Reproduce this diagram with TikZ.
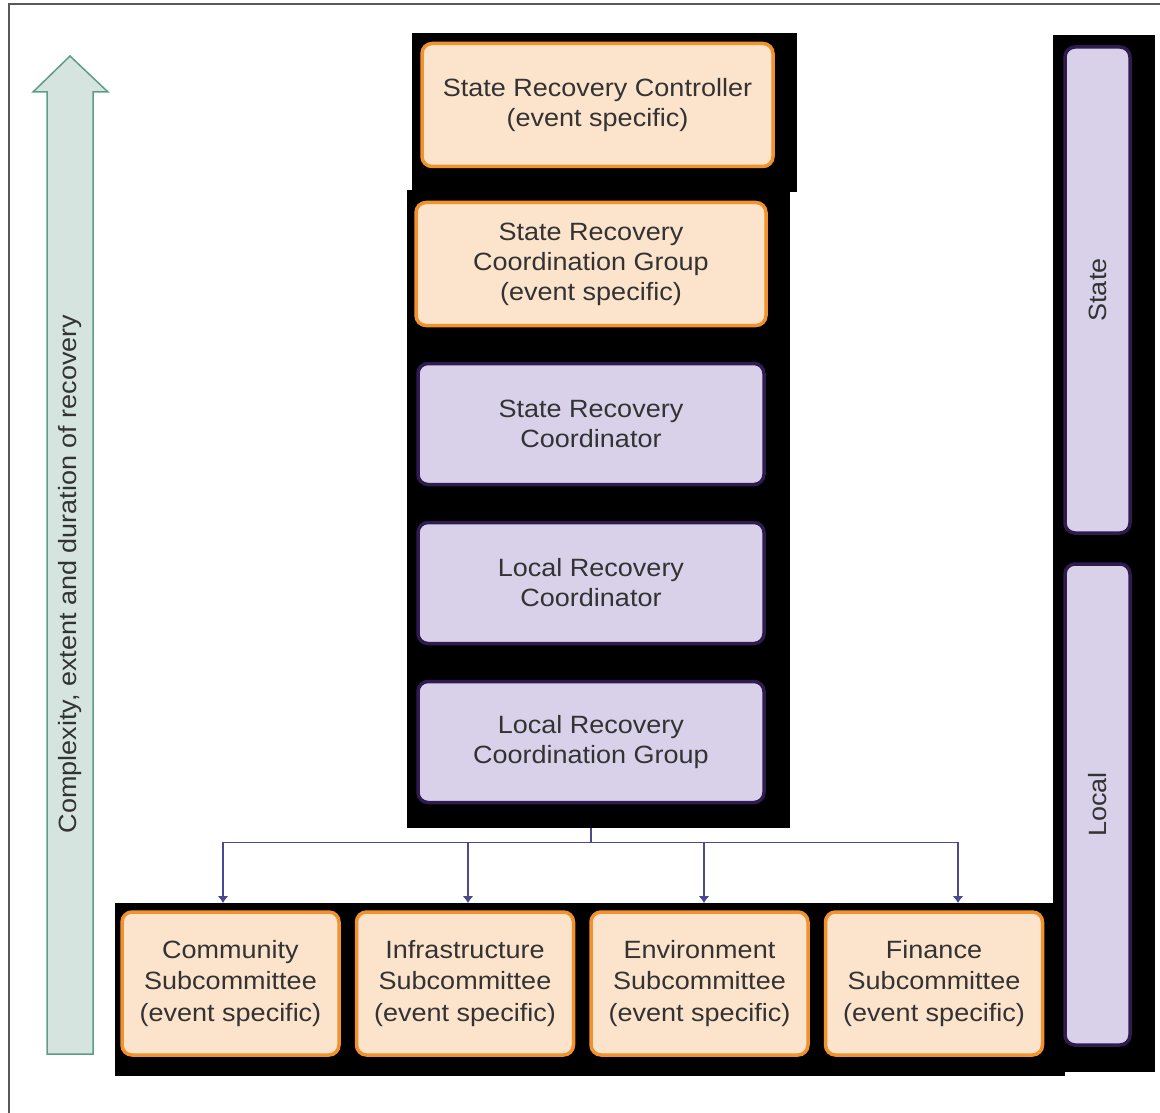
\documentclass[tikz,border=0pt]{standalone}
\usepackage{fontspec}
\setmainfont{Liberation Sans}[FakeStretch=1.08]
\usetikzlibrary{arrows.meta,calc}
\definecolor{peach}{HTML}{FCE3CB}
\definecolor{orangeline}{HTML}{F2922F}
\definecolor{lavender}{HTML}{D9D1EA}
\definecolor{purpleline}{HTML}{2F1B4F}
\definecolor{arrowfill}{HTML}{D5E4DE}
\definecolor{arrowline}{HTML}{5C9C88}
\definecolor{linkblue}{HTML}{4A4A8E}
\definecolor{textgray}{HTML}{333333}

\begin{document}
\begin{tikzpicture}[x=1pt,y=-1pt,node distance=159pt,
  every node/.style={font=\fontsize{25}{30}\selectfont,text=textgray,align=center},
  panel/.style={rectangle,fill=black,inner sep=0,anchor=north west},
  orangebox/.style={rectangle,rounded corners=10pt,draw=orangeline,line width=3.5pt,fill=peach,minimum width=350pt,minimum height=123pt},
  purplebox/.style={rectangle,rounded corners=10pt,draw=purpleline,line width=3.5pt,fill=lavender,minimum width=346pt,minimum height=121pt},
  subbox/.style={orangebox,minimum width=217pt,minimum height=143pt,font=\fontsize{25}{31.5}\selectfont},
  link/.style={draw=linkblue,line width=1.3pt}]

\useasboundingbox (0,0) rectangle (1160,1113);
\draw[gray!70!black,line width=2pt] (9,1113) -- (9,4) -- (1160,4);

% black panels
\node[panel,minimum width=385pt,minimum height=159pt] (toppanel) at (412,33) {};
\node[panel,minimum width=383pt,minimum height=638pt] (mainpanel) at (407,190) {};
\node[panel,minimum width=102pt,minimum height=1037pt] (sidepanel) at (1053,35) {};
\node[panel,minimum width=950pt,minimum height=173pt] (botpanel) at (115,903) {};

% big arrow
\draw[arrowline,fill=arrowfill,line width=1.5pt,line join=miter] (47,1054) -- (47,92) -- (33,92) -- (70,56) -- (108,92) -- (93,92) -- (93,1054) -- cycle;
\node[rotate=90] (scale) at (70,574) {Complexity, extent and duration of recovery};

% Nodes
\node[orangebox,minimum width=351pt] (src) at (597.5,105) {State Recovery Controller\\(event specific)};
\node[orangebox,below of=src,xshift=-6.5pt] (srcg) {State Recovery\\Coordination Group\\(event specific)};
\node[purplebox,below of=srcg,yshift=-1pt] (srco) {State Recovery\\Coordinator};
\node[purplebox,below of=srco] (lrco) {Local Recovery\\Coordinator};
\node[purplebox,below of=lrco] (lrcg) {Local Recovery\\Coordination Group};

\node[subbox] (comm) at (230.5,983.5) {Community\\Subcommittee\\(event specific)};
\node[subbox,right of=comm,node distance=234.5pt] (infra) {Infrastructure\\Subcommittee\\(event specific)};
\node[subbox,right of=infra,node distance=234.5pt] (env) {Environment\\Subcommittee\\(event specific)};
\node[subbox,right of=env,node distance=234.5pt] (fin) {Finance\\Subcommittee\\(event specific)};

\node[purplebox,rotate=90,minimum width=486pt,minimum height=65pt] (state) at (1097.5,290) {State};
\node[purplebox,rotate=90,minimum width=481pt,minimum height=65pt] (local) at (1097.5,804.5) {Local};

%arcs
\coordinate (stem) at (lrcg.south |- mainpanel.south);
\coordinate (split) at ($(stem)+(0,14)$);
\path (stem) edge[link] (split);
\draw[link,-{Latex[length=7pt,width=11pt]}] (split) -| ([xshift=-7.5pt]comm.north |- botpanel.north);
\draw[link,-{Latex[length=7pt,width=11pt]}] (split) -| ([xshift=3pt]infra.north |- botpanel.north);
\draw[link,-{Latex[length=7pt,width=11pt]}] (split) -| ([xshift=4.5pt]env.north |- botpanel.north);
\draw[link,-{Latex[length=7pt,width=11pt]}] (split) -| ([xshift=24pt]fin.north |- botpanel.north);

\end{tikzpicture}
\end{document}
